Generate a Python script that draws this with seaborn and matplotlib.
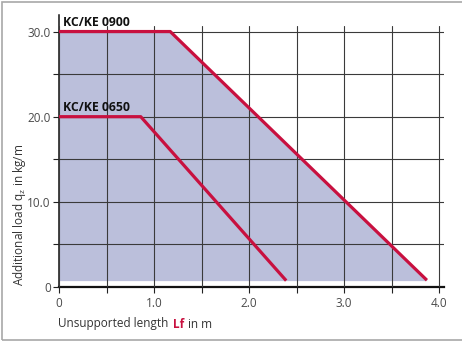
import matplotlib
matplotlib.use("Agg")
import matplotlib.pyplot as plt
import seaborn as sns
import pandas as pd
from matplotlib.patches import Rectangle

# values
length_0900 = [0, 1.17, 3.87]
load_0900 = [30, 30, 0.8]
length_0650 = [0, 0.86, 2.39]
load_0650 = [20, 20, 0.75]
fill_bottom = 0.75
series_names = ["KC/KE 0900", "KC/KE 0650"]
x_ticks = [0, 0.5, 1.0, 1.5, 2.0, 2.5, 3.0, 3.5, 4.0]
x_labels = ["0", "", "1.0", "", "2.0", "", "3.0", "", "4.0"]
y_ticks = [0, 5, 10, 15, 20, 25, 30]
y_labels = ["0", "", "10.0", "", "20.0", "", "30.0"]

sns.set_style("white")
plt.rcParams['font.family'] = ['Open Sans', 'DejaVu Sans']

red = "#C8103F"
lav = "#BBBFDB"
grey = "#4a4a4a"

df = pd.concat([
    pd.DataFrame({"length": length_0900, "load": load_0900, "series": series_names[0]}),
    pd.DataFrame({"length": length_0650, "load": load_0650, "series": series_names[1]}),
])

fig = plt.figure(figsize=(4.62, 3.42), dpi=100)
ax = fig.add_axes([59/462, 1-287/342, (444-59)/462, (287-26)/342])

ax.fill_between(length_0900, fill_bottom, load_0900, color=lav, lw=0, zorder=1)
sns.lineplot(data=df, x="length", y="load", units="series", estimator=None,
             color=red, lw=2.3, sort=False, ax=ax, zorder=3)
for ln in ax.lines:
    ln.set_solid_capstyle("butt")

ax.set_xlim(0, 4.05)
ax.set_ylim(0, 30.65)
ax.set_xticks(x_ticks, x_labels)
ax.set_yticks(y_ticks, y_labels)
ax.set_axisbelow(False)
ax.grid(True, color="#3a3a3a", lw=0.8)
ax.tick_params(axis="both", length=4, width=0.8, color="#222", labelcolor=grey,
               labelsize=8.5, direction="out")
ax.tick_params(axis="x", pad=3)
ax.tick_params(axis="y", pad=2)
ax.tick_params(bottom=True, left=True)
ax.set_xlabel("")
ax.set_ylabel("")

for s in ["top", "right"]:
    ax.spines[s].set_visible(False)
ax.spines["bottom"].set_linewidth(1.6)
ax.spines["bottom"].set_color("#111")
ax.spines["left"].set_linewidth(1.1)
ax.spines["left"].set_color("#111")
ax.spines["left"].set_bounds(0, 31.9)

ax.text(0.04, 31.1, series_names[0], fontsize=8.8, fontweight="bold", va="center",
        color="#111", clip_on=False)
ax.text(0.04, 21.1, series_names[1], fontsize=8.8, fontweight="bold", va="center",
        color="#111", clip_on=False)

t1 = fig.text(58/462, 1-324/342, "Unsupported length", fontsize=8.5, color="#333",
              va="center")
t2 = ax.annotate("Lf", xy=(1, 0), xycoords=t1, xytext=(3, 0), textcoords="offset points",
                 fontsize=8.5, fontweight="bold", color=red, va="bottom", ha="left")
ax.annotate("in m", xy=(1, 0), xycoords=t2, xytext=(3, 0), textcoords="offset points",
            fontsize=8.5, color="#333", va="bottom", ha="left")

fig.text(19/462, 1-286/342, r"Additional load q$_\mathregular{z}$ in kg/m", fontsize=8.5,
         color="#333", rotation=90, rotation_mode="anchor", ha="left", va="center")

fig.patches.append(Rectangle((1.5/462, 2.5/342), 1.2, 1-4/342, transform=fig.transFigure,
                             fill=False, edgecolor="#a8a8a8", lw=1.2))

fig.savefig("out.png", dpi=100)
